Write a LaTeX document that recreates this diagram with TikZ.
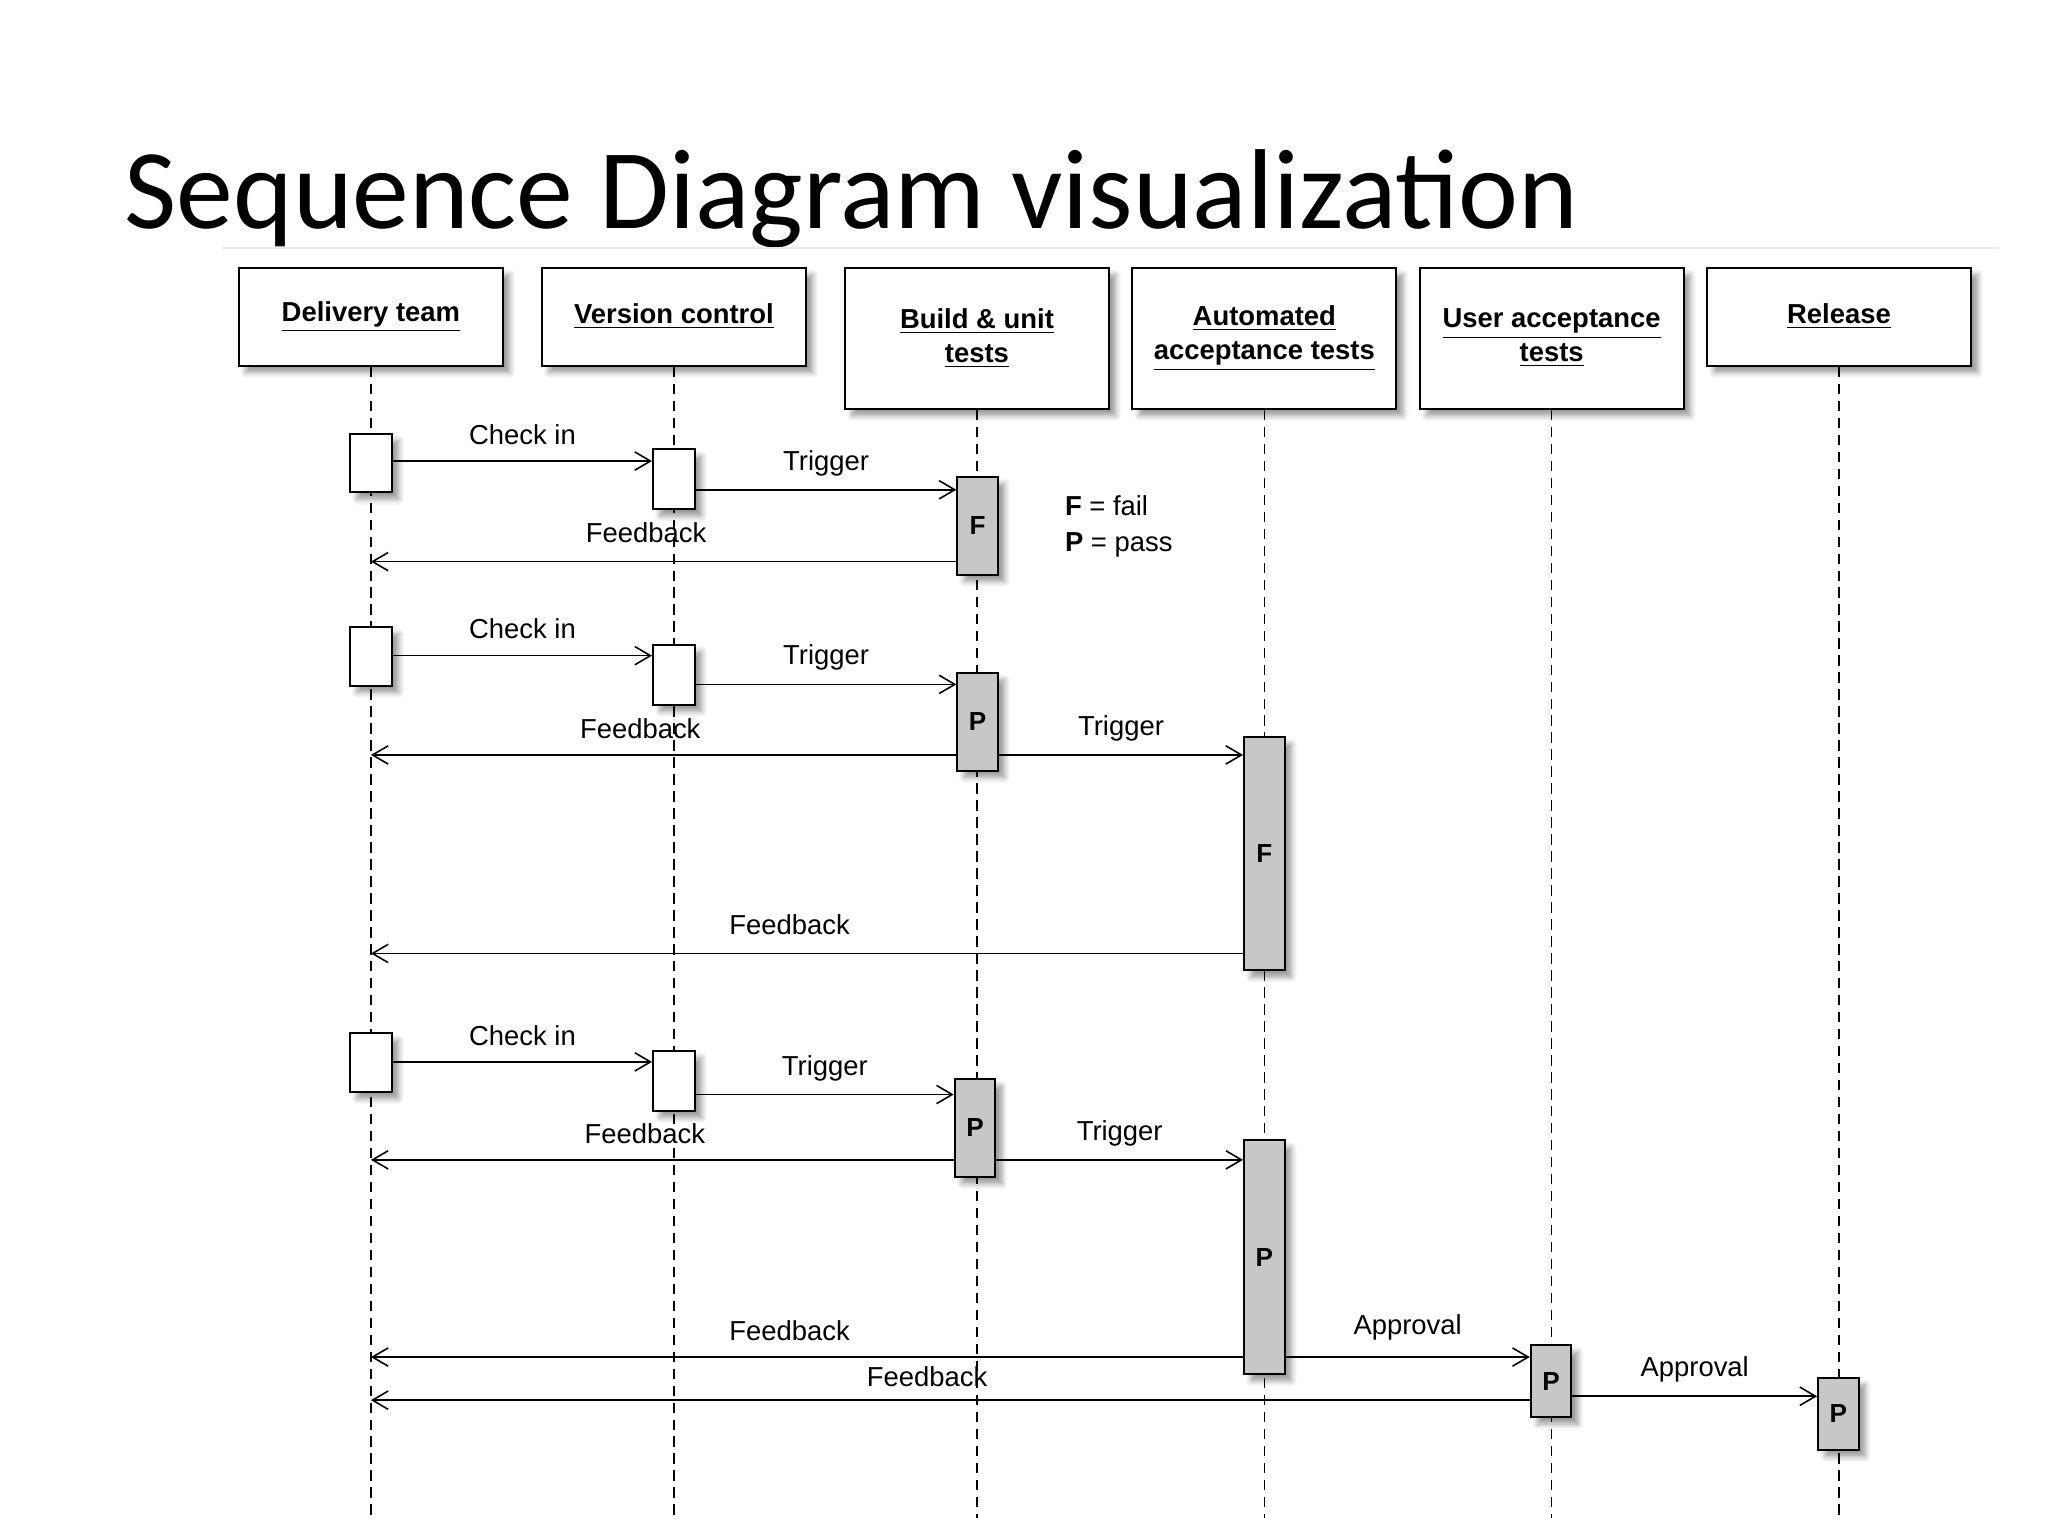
\documentclass[tikz,border=0pt]{standalone}
\usepackage{fontspec}
\setmainfont{Liberation Sans}
\newfontfamily\titlefont{Carlito}
\usetikzlibrary{arrows.meta,shadows.blur}
\begin{document}
\begin{tikzpicture}[x=0.5pt,y=-0.5pt,
  hdr/.style={draw,fill=white,line width=0.8pt,minimum width=101pt,align=center,
    font=\bfseries\fontsize{10.5}{13}\selectfont,blur shadow={shadow blur steps=5}},
  act/.style={draw,fill=white,line width=0.8pt,minimum width=16pt,inner sep=0pt,
    blur shadow={shadow blur steps=5}},
  gact/.style={act,fill=black!22,minimum width=15.5pt,font=\bfseries\fontsize{10}{12}\selectfont},
  life/.style={line width=0.6pt,dash pattern=on 4pt off 2.5pt},
  msg/.style={line width=0.6pt,-{Straight Barb[length=6pt,width=7pt]}},
  lbl/.style={font=\fontsize{10.5}{12}\selectfont,inner sep=0pt}]
\useasboundingbox (0,0) rectangle (1568,1176);
\node[font=\titlefont\fontsize{43.5}{50}\selectfont,anchor=base west,inner sep=0pt] (title) at (95,175) {Sequence Diagram visualization};
\draw[black!8,line width=0.6pt] (170,190) -- (1530,190);
% headers
\node[hdr,minimum height=37.5pt] (dt) at (284,242.5) {\underline{Delivery team}};
\node[hdr,minimum height=37.5pt] (vc) at (516,242.5) {\underline{Version control}};
\node[hdr,minimum height=54pt] (bu) at (748,259) {\underline{Build \& unit}\\\underline{tests}};
\node[hdr,minimum height=54pt] (at) at (968,259) {\underline{Automated}\\\underline{acceptance tests}};
\node[hdr,minimum height=54pt] (ua) at (1188,259) {\underline{User acceptance}\\\underline{tests}};
\node[hdr,minimum height=37.5pt] (rl) at (1408,242.5) {\underline{Release}};
% lifelines
\foreach \h in {dt,vc,bu,at,ua,rl}
  \draw[life] (\h.south) -- (\h.south |- 0,1162);
% activations
\foreach \n/\y in {d1/354.5,d2/502.5,d3/813.5}
  \node[act,minimum height=22.5pt] (\n) at (284,\y) {};
\foreach \n/\y in {v1/367,v2/516.5,v3/827.5}
  \node[act,minimum height=23pt] (\n) at (516,\y) {};
\node[gact,minimum height=37.5pt] (b1) at (748.5,402.5) {F};
\node[gact,minimum height=37.5pt] (b2) at (748.5,552.5) {P};
\node[gact,minimum height=37.5pt] (b3) at (746.5,863.5) {P};
\node[gact,minimum height=89.5pt] (a1) at (968,653.5) {F};
\node[gact,minimum height=89.5pt] (a2) at (968,962.5) {P};
\node[gact,minimum height=27.5pt] (u1) at (1187.5,1057.5) {P};
\node[gact,minimum height=27.5pt] (r1) at (1407.5,1082.5) {P};
\node[lbl,anchor=north west,align=left,font=\fontsize{10.5}{14}\selectfont] (leg) at (815,379) {\textbf{F} = fail\\\textbf{P} = pass};
% round 1
\draw[msg] (d1.east |- 0,353) -- (v1.west |- 0,353) node[lbl,midway,above=6pt] (l1) {Check in};
\draw[msg] (v1.east |- 0,375) -- (b1.west |- 0,375) node[lbl,midway,above=5pt] (l2) {Trigger};
\draw[msg] (b1.west |- 0,430) -- (d1.south |- 0,430) node[lbl,pos=0.53,above=7pt] (l3) {Feedback};
% round 2
\draw[msg] (d2.east |- 0,502) -- (v2.west |- 0,502) node[lbl,midway,above=6pt] (l4) {Check in};
\draw[msg] (v2.east |- 0,524) -- (b2.west |- 0,524) node[lbl,midway,above=5pt] (l5) {Trigger};
\draw[msg] (b2.west |- 0,578) -- (d2.south |- 0,578) node[lbl,pos=0.54,above=6pt] (l6) {Feedback};
\draw[msg] (b2.east |- 0,578) -- (a1.west |- 0,578) node[lbl,midway,above=5pt] (l7) {Trigger};
\draw[msg] (a1.west |- 0,730) -- (d2.south |- 0,730) node[lbl,pos=0.52,above=7pt] (l8) {Feedback};
% round 3
\draw[msg] (d3.east |- 0,813) -- (v3.west |- 0,813) node[lbl,midway,above=6pt] (l9) {Check in};
\draw[msg] (v3.east |- 0,838) -- (b3.west |- 0,838) node[lbl,midway,above=5pt] (l10) {Trigger};
\draw[msg] (b3.west |- 0,888) -- (d3.south |- 0,888) node[lbl,pos=0.53,above=6pt] (l11) {Feedback};
\draw[msg] (b3.east |- 0,888) -- (a2.west |- 0,888) node[lbl,midway,above=5pt] (l12) {Trigger};
\draw[msg] (a2.west |- 0,1039) -- (d3.south |- 0,1039) node[lbl,pos=0.52,above=6pt] (l13) {Feedback};
\draw[msg] (a2.east |- 0,1039) -- (u1.west |- 0,1039) node[lbl,midway,above=6pt] (l14) {Approval};
\draw[msg] (u1.west |- 0,1072) -- (d3.south |- 0,1072) node[lbl,pos=0.52,above=5pt] (l15) {Feedback};
\draw[msg] (u1.east |- 0,1069) -- (r1.west |- 0,1069) node[lbl,midway,above=5pt] (l16) {Approval};
\end{tikzpicture}
\end{document}
